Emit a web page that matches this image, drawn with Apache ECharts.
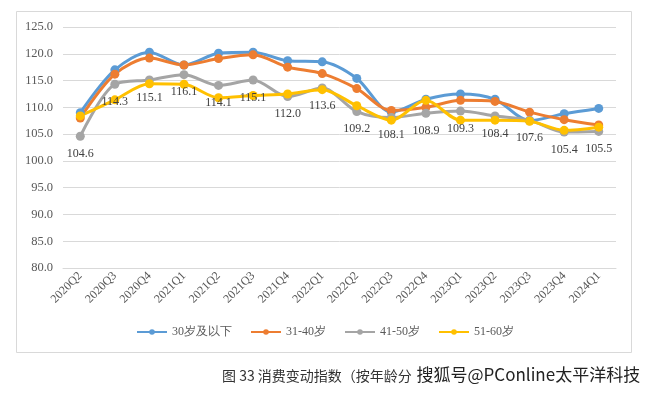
<!DOCTYPE html>
<html>
<head>
<meta charset="utf-8">
<script src="https://cdn.jsdelivr.net/npm/echarts@6/dist/echarts.min.js"></script>
<style>html,body{margin:0;padding:0;background:#fff}#c{width:650px;height:395px}</style>
</head>
<body>
<div id="c"></div>
<script>
const categories = ['2020Q2','2020Q3','2020Q4','2021Q1','2021Q2','2021Q3','2021Q4','2022Q1','2022Q2','2022Q3','2022Q4','2023Q1','2023Q2','2023Q3','2023Q4','2024Q1'];
const age30 = [109.0,117.0,120.3,117.9,120.1,120.3,118.7,118.5,115.4,109.1,111.5,112.5,111.5,107.5,108.8,109.8];
const age31_40 = [108.0,116.2,119.2,117.9,119.1,119.8,117.5,116.3,113.5,109.4,110.0,111.3,111.1,109.1,107.7,106.7];
const age41_50 = [104.6,114.3,115.1,116.1,114.1,115.1,112.0,113.6,109.2,108.1,108.9,109.3,108.4,107.6,105.4,105.5];
const age51_60 = [108.4,111.4,114.4,114.3,111.8,112.2,112.5,113.3,110.3,107.6,111.3,107.6,107.6,107.4,105.7,106.3];
const seriesNames = ['30岁及以下','31-40岁','41-50岁','51-60岁'];
const yTicks = {min:80, max:125, interval:5};
const titleText = '图 33 消费变动指数（按年龄分';
const watermarkText = '搜狐号@PConline太平洋科技';

const colors = ['#5B9BD5','#ED7D31','#A5A5A5','#FFC000'];
const serif = '"Liberation Serif", "Times New Roman", serif';
const chart = echarts.init(document.getElementById('c'), null, {renderer:'canvas'});

function mk(name, data, color, withLabel){
  return {
    name, type:'line', data, smooth:0.3,
    symbol:'circle', symbolSize:9, showSymbol:true,
    lineStyle:{width:3, color},
    itemStyle:{color},
    label: withLabel ? {show:true, position:'bottom', distance:7, fontFamily:serif, fontSize:12, color:'#404040', formatter: p => p.value.toFixed(1)} : {show:false},
    z: 2,
    emphasis:{disabled:true}
  };
}

chart.setOption({
  animation:false,
  backgroundColor:'#fff',
  color: colors,
  grid:{left:63, right:34, top:27, bottom:127, containLabel:false},
  legend:{
    data: seriesNames.map(n => ({name:n})), bottom:52, left:'center', itemWidth:30, itemHeight:7, itemGap:18,
    textStyle:{fontFamily:serif, fontSize:12, color:'#595959'}
  },
  xAxis:{
    type:'category', data:categories, boundaryGap:true,
    axisLine:{show:true, lineStyle:{color:'#d9d9d9'}},
    axisTick:{show:false},
    axisLabel:{rotate:45, fontFamily:serif, fontSize:12, color:'#595959', margin:6, interval:0}
  },
  yAxis:{
    type:'value', min:yTicks.min, max:yTicks.max, interval:yTicks.interval,
    axisLine:{show:false}, axisTick:{show:false},
    splitLine:{lineStyle:{color:'#d9d9d9', width:1}},
    axisLabel:{fontFamily:serif, fontSize:12.5, color:'#595959', margin:10, formatter: v => v.toFixed(1)}
  },
  series:[
    mk(seriesNames[0], age30, colors[0], false),
    mk(seriesNames[1], age31_40, colors[1], false),
    mk(seriesNames[2], age41_50, colors[2], true),
    mk(seriesNames[3], age51_60, colors[3], false)
  ],
  graphic:[
    {type:'rect', shape:{x:16.5, y:11.5, width:615, height:341}, style:{fill:'none', stroke:'#d9d9d9', lineWidth:1}, z:-1, silent:true},
    {type:'text', left:222, top:369, style:{text:titleText, font:'14px "Noto Sans CJK SC", sans-serif', fill:'#333'}},
    {type:'text', left:416, top:366, style:{text:watermarkText, font:'17px "Noto Sans CJK SC", sans-serif', fill:'#222', stroke:'#fff', lineWidth:1}}
  ]
});
</script>
</body>
</html>
